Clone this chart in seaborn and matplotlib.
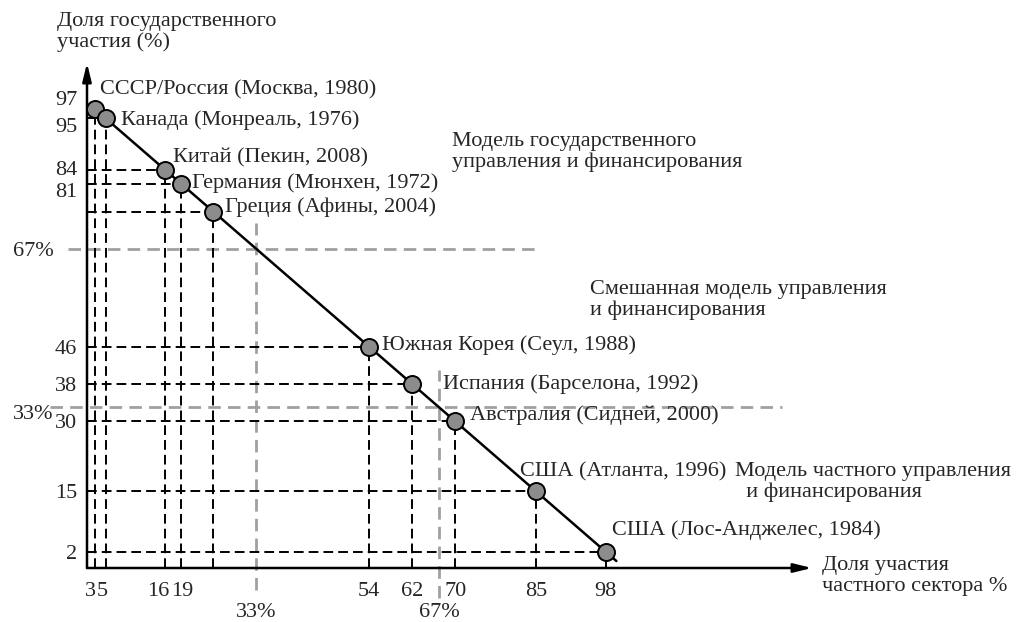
import matplotlib
matplotlib.use("Agg")
import matplotlib.pyplot as plt
import matplotlib.transforms as mtransforms
import pandas as pd
import seaborn as sns

# Olympic host cities: share of private / state participation (%)
cities = [
    "СССР/Россия (Москва, 1980)",
    "Канада (Монреаль, 1976)",
    "Китай (Пекин, 2008)",
    "Германия (Мюнхен, 1972)",
    "Греция (Афины, 2004)",
    "Южная Корея (Сеул, 1988)",
    "Испания (Барселона, 1992)",
    "Австралия (Сидней, 2000)",
    "США (Атланта, 1996)",
    "США (Лос-Анджелес, 1984)",
]
private_share = [3, 5, 16, 19, 25, 54, 62, 70, 85, 98]
state_share = [97, 95, 84, 81, 75, 46, 38, 30, 15, 2]

# trend line end points
line_x = [3, 100]
line_y = [97, 0]

# axis ticks
x_ticks = [3, 5, 16, 19, 54, 62, 70, 85, 98]
y_ticks = [97, 95, 84, 81, 46, 38, 30, 15, 2]
thresholds = [33, 67]
threshold_labels = ["33%", "67%"]

zone_texts = [
    "Модель государственного\nуправления и финансирования",
    "Смешанная модель управления\nи финансирования",
    "Модель частного управления\n  и финансирования",
]

df = pd.DataFrame({"city": cities, "private": private_share, "state": state_share})

sns.set_theme(style="white")
plt.rcParams["font.family"] = ["Liberation Serif", "DejaVu Serif"]
FS = 16

W, H = 1028, 622
fig = plt.figure(figsize=(W / 100, H / 100), dpi=100)
x0, y0 = 1.5, -1.5
ax = fig.add_axes([87 / W, (H - 568) / H, (812 - 87) / W, (568 - 63) / H])
ax.set_xlim(x0, 136.4)
ax.set_ylim(y0, 106.9)
for s in ax.spines.values():
    s.set_visible(False)

# axis arrows
arrow = dict(arrowstyle="-|>,head_length=0.9,head_width=0.22", color="black", lw=1.8,
             shrinkA=0, shrinkB=0)
ax.annotate("", xy=(1, 0), xytext=(0, 0), xycoords="axes fraction", arrowprops=arrow)
ax.annotate("", xy=(0, 1), xytext=(0, 0), xycoords="axes fraction", arrowprops=arrow)

# black dashed guides for each city
dash = dict(color="black", lw=1.4, dashes=(5, 2.6), zorder=2)
for x, y in zip(private_share, state_share):
    ax.plot([x0, x], [y, y], **dash)
    ax.plot([x, x], [y0, y], **dash)

# grey threshold lines
grey = dict(color="#a0a0a0", lw=2.0, dashes=(4.5, 2.6), zorder=1.5, clip_on=False)
ax.plot([-2, 86], [67, 67], **grey)
ax.plot([33, 33], [-6.2, 72.5], **grey)
ax.plot([-5.4, 130.8], [33, 33], **grey)
ax.plot([67, 67], [-8, 41], **grey)

# trend line and points
sns.lineplot(x=line_x, y=line_y, color="black", lw=1.8, ax=ax, zorder=3)
sns.scatterplot(data=df, x="private", y="state", s=150, color="#8c8c8c",
                edgecolor="black", linewidth=1.4, ax=ax, zorder=4, clip_on=False)

label_offsets = [(5, 19), (15, -2), (8, 12), (11, 1), (12, 4),
                 (13, 2), (31, 0), (15, 6), (-16, 19), (6, 22)]
for (_, r), (dx, dy) in zip(df.iterrows(), label_offsets):
    ax.annotate(r["city"], (r["private"], r["state"]), xytext=(dx, dy),
                textcoords="offset pixels", ha="left", va="center", fontsize=FS)

# ticks
ax.set_xticks(x_ticks)
ax.set_xticklabels([str(v) for v in x_ticks])
ax.set_yticks(y_ticks)
ax.set_yticklabels([str(v) for v in y_ticks])
ax.set_xticks(thresholds, minor=True)
ax.set_xticklabels(threshold_labels, minor=True)
ax.set_yticks(thresholds, minor=True)
ax.set_yticklabels(threshold_labels, minor=True)
ax.tick_params(axis="both", which="both", length=0, labelsize=FS)
ax.tick_params(axis="x", which="major", pad=10)
ax.tick_params(axis="x", which="minor", pad=25)
ax.tick_params(axis="y", which="major", pad=7)
ax.tick_params(axis="y", which="minor", pad=24)
ax.set_xlabel("")
ax.set_ylabel("")

# nudge crowded labels apart
def shift(lbl, dx, dy):
    lbl.set_transform(lbl.get_transform() +
                      mtransforms.ScaledTranslation(dx / 100, dy / 100, fig.dpi_scale_trans))

ylabels = ax.get_yticklabels()
for lbl, dy in zip(ylabels, [11, -7, 2, -6, 0, 0, 0, 0, 0]):
    shift(lbl, 0, dy)
xlabels = ax.get_xticklabels()
for lbl, dx in zip(xlabels, [-5, -4, -7, 1, 0, 0, 0, 0, 0]):
    shift(lbl, dx, 0)
shift(ax.get_yticklabels(minor=True)[0], 0, -5)

# zone captions and axis titles
def ftext(px, py, s):
    fig.text(px / W, 1 - py / H, s, ha="left", va="center", fontsize=FS, linespacing=1.15)

ftext(452, 152, zone_texts[0])
ftext(590, 300, zone_texts[1])
ftext(735, 482, zone_texts[2])
ftext(57, 32, "Доля государственного\nучастия (%)")
ftext(822, 576, "Доля участия\nчастного сектора %")

fig.savefig("out.png", dpi=100)
